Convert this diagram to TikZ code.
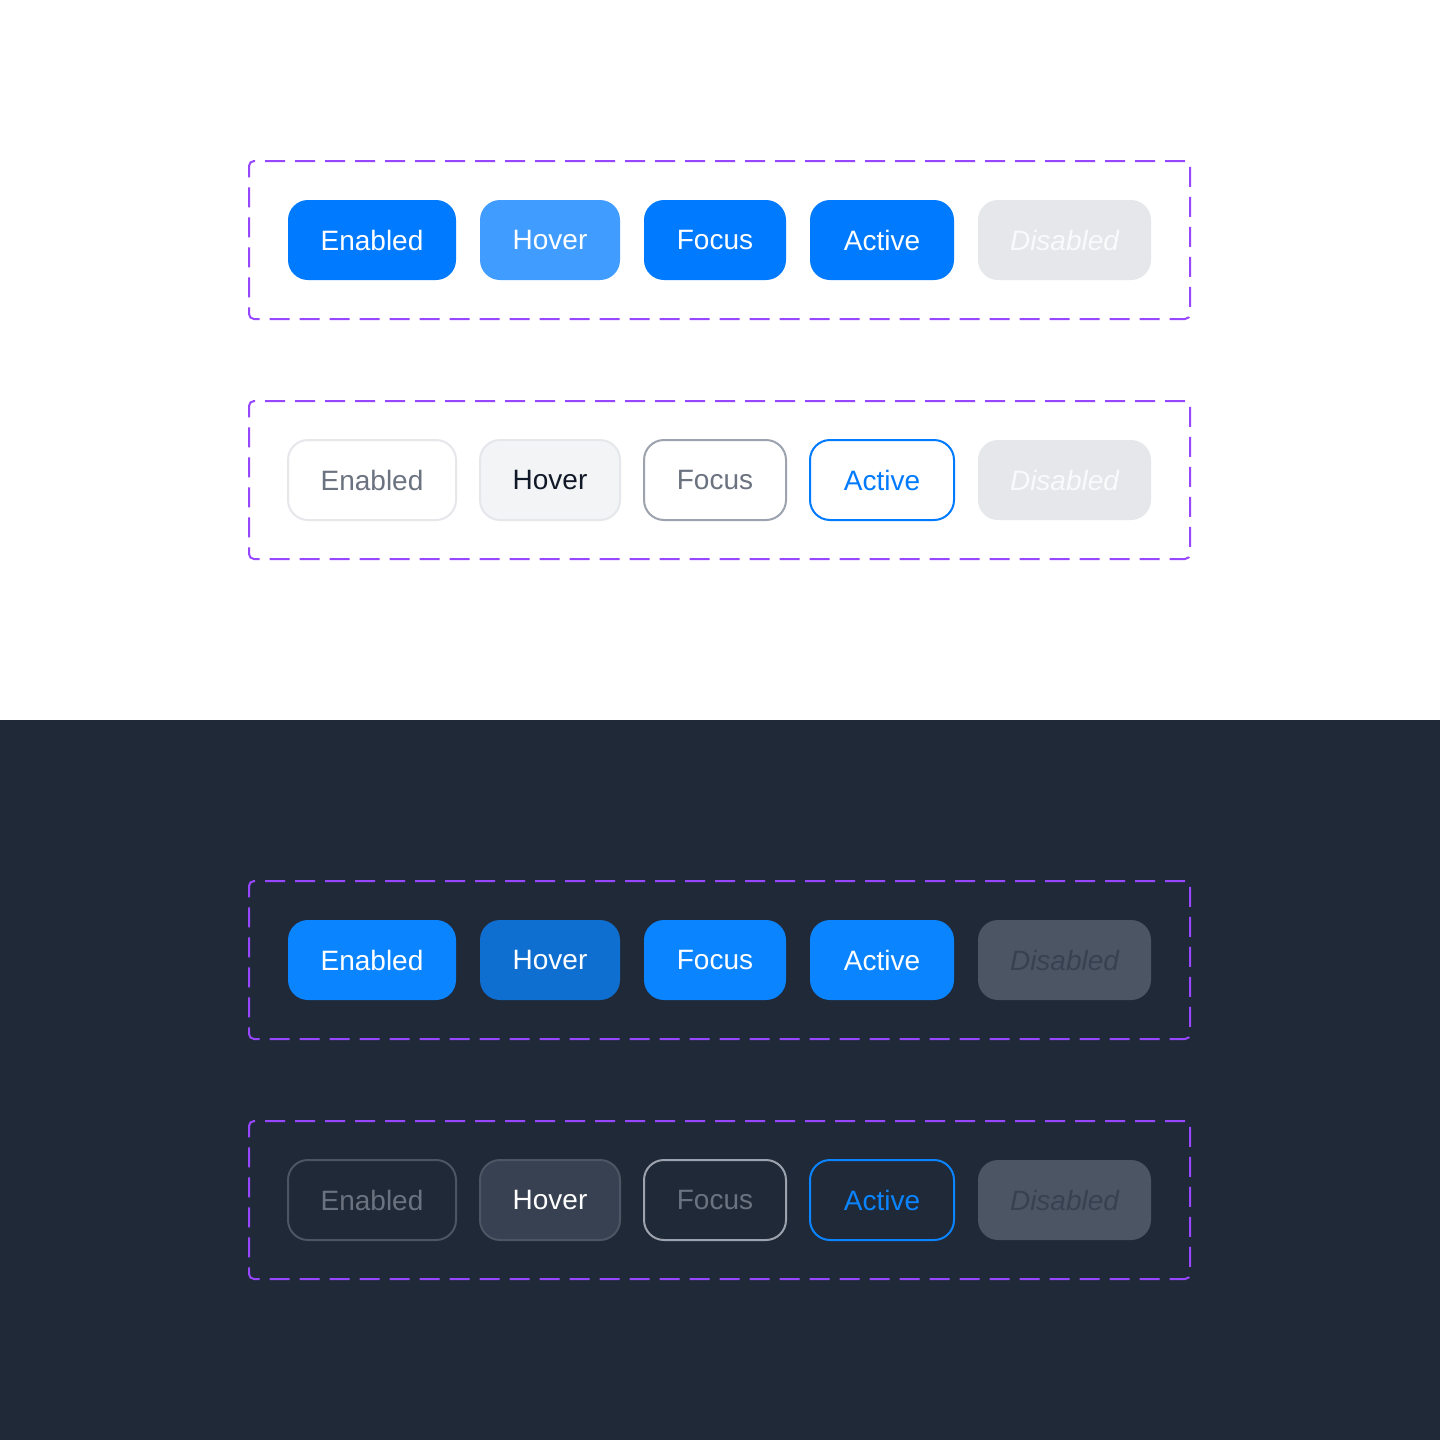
\documentclass[tikz,border=0pt]{standalone}
\usepackage{fontspec}
\setmainfont{Liberation Sans}
\usepackage{xcolor}
\usetikzlibrary{positioning, fit}

\definecolor{pageDark}{HTML}{1F2937}
\definecolor{frameViolet}{HTML}{9747FF}
\definecolor{blueLight}{HTML}{007AFF}
\definecolor{blueLightHover}{HTML}{409CFF}
\definecolor{blueDark}{HTML}{0A84FF}
\definecolor{blueDarkHover}{HTML}{0F6FD0}
\definecolor{grayA}{HTML}{F3F4F6}
\definecolor{grayB}{HTML}{E5E7EB}
\definecolor{grayC}{HTML}{9CA3AF}
\definecolor{grayD}{HTML}{6B7280}
\definecolor{grayE}{HTML}{4B5563}
\definecolor{grayF}{HTML}{374151}
\definecolor{grayG}{HTML}{111827}
\definecolor{grayH}{HTML}{F9FAFB}

\begin{document}
\begin{tikzpicture}[
    x=1pt, y=-1pt,
    node distance=24pt,
    btn/.style={rectangle, minimum height=80pt, inner xsep=0pt, inner ysep=0pt, outer sep=0pt, rounded corners=20pt, line width=2pt, font=\fontsize{28}{34}\selectfont},
    filled/.style={btn, fill=#1, text=white},
    outlined/.style={btn, draw=#1},
    disabled/.style={btn, minimum width=173pt, font=\fontsize{28}{34}\selectfont\itshape},
    wEnabled/.style={minimum width=168pt},
    wHover/.style={minimum width=140pt},
    wFocus/.style={minimum width=142pt},
    wActive/.style={minimum width=144pt},
    frame/.style={draw=frameViolet, line width=2pt, dash pattern=on 20pt off 10pt, rounded corners=5pt, inner sep=39pt}
]
    % Page halves
    \fill[white] (0,0) rectangle (1440,720);
    \fill[pageDark] (0,720) rectangle (1440,1440);

    % Light theme, filled buttons
    \node [filled=blueLight, wEnabled, anchor=west] (lfEnabled) at (288,240) {Enabled};
    \node [filled=blueLightHover, wHover, right=of lfEnabled] (lfHover) {Hover};
    \node [filled=blueLight, wFocus, right=of lfHover] (lfFocus) {Focus};
    \node [filled=blueLight, wActive, right=of lfFocus] (lfActive) {Active};
    \node [disabled, fill=grayB, text=grayH, right=of lfActive] (lfDisabled) {Disabled};
    \node [frame, fit=(lfEnabled) (lfDisabled)] (lfBox) {};

    % Light theme, outlined buttons
    \node [outlined=grayB, wEnabled, fill=white, text=grayD, anchor=west] (loEnabled) at (288,480) {Enabled};
    \node [outlined=grayB, wHover, fill=grayA, text=grayG, right=of loEnabled] (loHover) {Hover};
    \node [outlined=grayC, wFocus, fill=white, text=grayD, right=of loHover] (loFocus) {Focus};
    \node [outlined=blueLight, wActive, fill=white, text=blueLight, right=of loFocus] (loActive) {Active};
    \node [disabled, fill=grayB, text=grayH, right=of loActive] (loDisabled) {Disabled};
    \node [frame, fit=(loEnabled) (loDisabled)] (loBox) {};

    % Dark theme, filled buttons
    \node [filled=blueDark, wEnabled, anchor=west] (dfEnabled) at (288,960) {Enabled};
    \node [filled=blueDarkHover, wHover, right=of dfEnabled] (dfHover) {Hover};
    \node [filled=blueDark, wFocus, right=of dfHover] (dfFocus) {Focus};
    \node [filled=blueDark, wActive, right=of dfFocus] (dfActive) {Active};
    \node [disabled, fill=grayE, text=grayF, right=of dfActive] (dfDisabled) {Disabled};
    \node [frame, fit=(dfEnabled) (dfDisabled)] (dfBox) {};

    % Dark theme, outlined buttons
    \node [outlined=grayE, wEnabled, text=grayD, anchor=west] (doEnabled) at (288,1200) {Enabled};
    \node [outlined=grayE, wHover, fill=grayF, text=white, right=of doEnabled] (doHover) {Hover};
    \node [outlined=grayC, wFocus, text=grayD, right=of doHover] (doFocus) {Focus};
    \node [outlined=blueDark, wActive, text=blueDark, right=of doFocus] (doActive) {Active};
    \node [disabled, fill=grayE, text=grayF, right=of doActive] (doDisabled) {Disabled};
    \node [frame, fit=(doEnabled) (doDisabled)] (doBox) {};

\end{tikzpicture}
\end{document}
